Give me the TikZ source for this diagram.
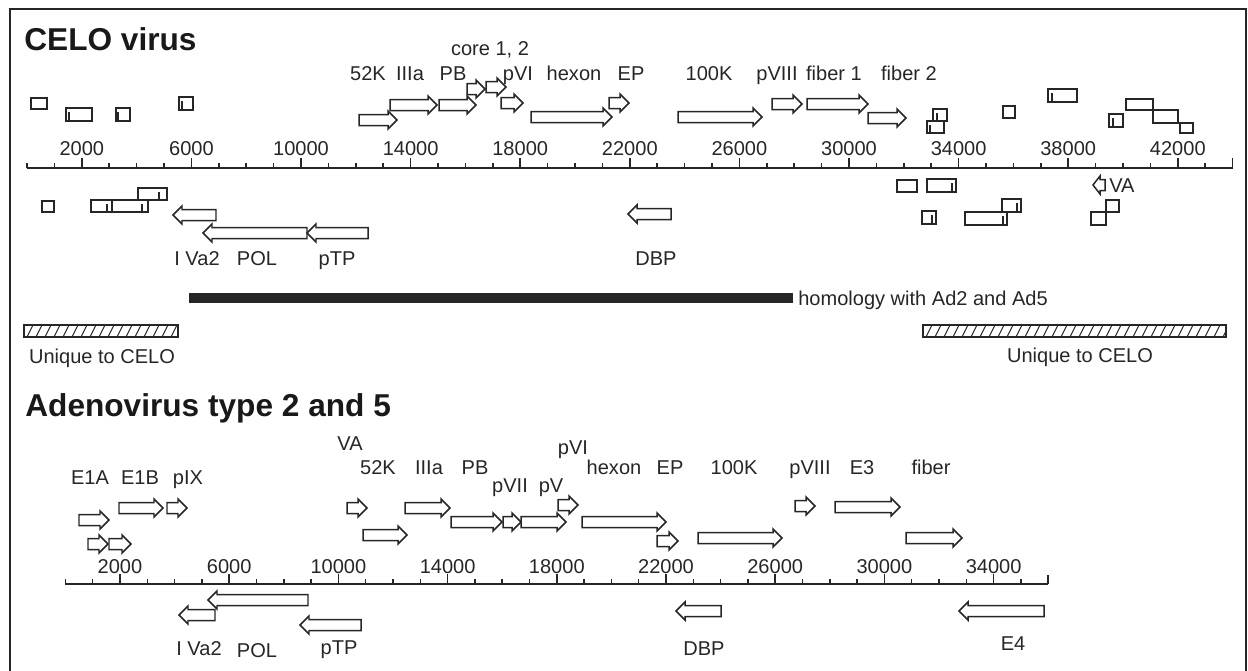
\documentclass[tikz,border=0pt]{standalone}
\usepackage{fontspec}
\setmainfont{Liberation Sans}

% gene arrows: [head length]{x1}{x2}{y}
\newcommand{\fwd}[4][9]{%
  \draw[orf] (#2,#4-5.5) -- (#3-#1,#4-5.5) -- (#3-#1,#4-9) -- (#3,#4) -- (#3-#1,#4+9) -- (#3-#1,#4+5.5) -- (#2,#4+5.5) -- cycle;}
\newcommand{\rev}[4][9]{%
  \draw[orf] (#3,#4-5.5) -- (#2+#1,#4-5.5) -- (#2+#1,#4-9) -- (#2,#4) -- (#2+#1,#4+9) -- (#2+#1,#4+5.5) -- (#3,#4+5.5) -- cycle;}
% open reading frame box: [tick x]{x1}{y1}{x2}{y2}
\newcommand{\orfbox}[5][]{%
  \draw[orf] (#2,#3) rectangle (#4,#5);
  \ifx&#1&\else\draw[orf] (#1,#5) -- (#1,#3+4);\fi}

\begin{document}
\begin{tikzpicture}[x=0.02cm, y=-0.02cm,
    orf/.style={draw=black!85, line width=0.85pt, fill=white},
    maprule/.style={draw=black!85, line width=0.85pt},
    lbl/.style={text=black!85, font=\fontsize{11.4}{13}\selectfont, inner sep=0pt, anchor=base},
    ttl/.style={text=black!90, font=\fontsize{18}{21}\selectfont\bfseries, inner sep=0pt, anchor=base west}]

  \useasboundingbox (0,0) rectangle (1248,670);
  \draw[black!85, line width=1.2pt] (10,700) -- (10,9) -- (1246,9) -- (1246,700);

  % CELO virus
  \node[ttl] (celo) at (24,50) {CELO virus};

  % CELO scale
  \draw[maprule] (27,168) -- (1232.6,168);
  \foreach \k in {0,...,44} \draw[maprule] ({27+27.4*\k},168) -- ++(0,-5);
  \draw[maprule] (1232.6,168) -- ++(0,-10);
  \foreach \k in {2,6,...,42} {
    \draw[maprule] ({27+27.4*\k},168) -- ++(0,-10);
    \node[lbl] (c\k) at ({27+27.4*\k},155) {\k000};
  }

  % CELO rightward genes
  \fwd{359}{397}{120}
  \fwd{390}{437}{105}
  \fwd{439}{476}{105}
  \fwd{467}{485}{89}
  \fwd{486}{506}{87}
  \fwd{501}{523}{103}
  \fwd{531}{612}{117}
  \fwd{609}{629}{103}
  \fwd{678}{762}{117}
  \fwd{772}{802}{104}
  \fwd{807}{868}{104}
  \fwd{868}{906}{118}
  \orfbox{31}{98}{47}{109}
  \orfbox[69]{66}{108}{92}{121}
  \orfbox[118]{116}{108}{130}{121}
  \orfbox[182]{179}{97}{193}{110}
  \orfbox[937]{933}{109}{947}{121}
  \orfbox[930]{927}{121}{944}{133}
  \orfbox{1003}{106}{1015}{118}
  \orfbox[1052]{1048}{89}{1077}{102}
  \orfbox[1113]{1109}{114}{1123}{127}
  \orfbox{1126}{99}{1153}{110}
  \orfbox{1153}{110}{1178}{123}
  \orfbox{1180}{123}{1193}{133}

  \node[lbl] (ccore) at (490,55) {core 1, 2};
  \node[lbl] (c52K) at (368,80) {52K};
  \node[lbl] (cIIIa) at (410,80) {IIIa};
  \node[lbl] (cPB) at (453,80) {PB};
  \node[lbl] (cpVI) at (518,80) {pVI};
  \node[lbl] (chexon) at (574,80) {hexon};
  \node[lbl] (cEP) at (631,80) {EP};
  \node[lbl] (c100K) at (709,80) {100K};
  \node[lbl] (cpVIII) at (777,80) {pVIII};
  \node[lbl] (cfiber1) at (834,80) {fiber 1};
  \node[lbl] (cfiber2) at (909,80) {fiber 2};

  % CELO leftward genes
  \rev{173}{216}{215}
  \rev{203}{307}{233}
  \rev{307}{368}{233}
  \rev{628}{671}{214}
  \rev[7]{1093}{1105}{185}
  \orfbox{42}{201}{54}{212}
  \orfbox[107]{91}{200}{112}{212}
  \orfbox[142]{112}{200}{148}{212}
  \orfbox[159]{138}{188}{167}{200}
  \orfbox{897}{180}{917}{192}
  \orfbox[952]{927}{179}{956}{192}
  \orfbox[932]{922}{211}{936}{224}
  \orfbox[1003]{965}{212}{1007}{225}
  \orfbox[1017]{1002}{199}{1021}{212}
  \orfbox{1091}{212}{1106}{225}
  \orfbox{1106}{200}{1119}{212}

  \node[lbl] (cIVa2) at (197,265) {I Va2};
  \node[lbl] (cPOL) at (257,265) {POL};
  \node[lbl] (cpTP) at (337,265) {pTP};
  \node[lbl] (cDBP) at (656,265) {DBP};
  \node[lbl, anchor=base west] (cVA) at (1109,192) {VA};

  % homology and unique regions
  \fill[black!85] (189,293) rectangle (793,303);
  \node[lbl, anchor=base west] (homol) at (798,305) {homology with Ad2 and Ad5};
  \begin{scope}
    \clip (24,325) rectangle (178,337);
    \foreach \hx in {18,27,...,180} \draw[black!85, line width=0.6pt] (\hx,337) -- (\hx+6,325);
  \end{scope}
  \draw[orf, fill=none] (24,325) rectangle (178,337);
  \begin{scope}
    \clip (923,325) rectangle (1226,337);
    \foreach \hx in {917,926,...,1230} \draw[black!85, line width=0.6pt] (\hx,337) -- (\hx+6,325);
  \end{scope}
  \draw[orf, fill=none] (923,325) rectangle (1226,337);
  \node[lbl] (uniqL) at (102,363) {Unique to CELO};
  \node[lbl] (uniqR) at (1080,362) {Unique to CELO};

  % Adenovirus type 2 and 5
  \node[ttl] (adeno) at (25,416) {Adenovirus type 2 and 5};

  % Ad scale
  \draw[maprule] (65.4,584) -- (1048.2,584);
  \foreach \k in {0,...,36} \draw[maprule] ({65.4+27.3*\k},584) -- ++(0,-5);
  \draw[maprule] (1048.2,584) -- ++(0,-9);
  \foreach \k in {2,6,...,34} {
    \draw[maprule] ({65.4+27.3*\k},584) -- ++(0,-10);
    \node[lbl] (a\k) at ({65.4+27.3*\k},573) {\k000};
  }

  % Ad rightward genes
  \fwd{79}{109}{520}
  \fwd{119}{163}{508}
  \fwd{167}{187}{508}
  \fwd{88}{108}{544}
  \fwd{109}{131}{544}
  \fwd{347}{367}{508}
  \fwd{363}{407}{535}
  \fwd{405}{450}{508}
  \fwd{451}{502}{522}
  \fwd{503}{521}{522}
  \fwd{521}{566}{522}
  \fwd{558}{578}{505}
  \fwd{582}{666}{522}
  \fwd{657}{678}{541}
  \fwd{698}{782}{538}
  \fwd{795}{815}{506}
  \fwd{835}{900}{507}
  \fwd{906}{962}{538}

  \node[lbl] (aVA) at (350,450) {VA};
  \node[lbl] (a52K) at (378,474) {52K};
  \node[lbl] (aE1A) at (90,484) {E1A};
  \node[lbl] (aE1B) at (140,484) {E1B};
  \node[lbl] (apIX) at (188,484) {pIX};
  \node[lbl] (aIIIa) at (429,474) {IIIa};
  \node[lbl] (aPB) at (475,474) {PB};
  \node[lbl] (apVI) at (573,454) {pVI};
  \node[lbl] (apVII) at (510,492) {pVII};
  \node[lbl] (apV) at (551,492) {pV};
  \node[lbl] (ahexon) at (614,474) {hexon};
  \node[lbl] (aEP) at (670,474) {EP};
  \node[lbl] (a100K) at (734,474) {100K};
  \node[lbl] (apVIII) at (810,474) {pVIII};
  \node[lbl] (aE3) at (862,474) {E3};
  \node[lbl] (afiber) at (931,474) {fiber};

  % Ad leftward genes
  \rev{208}{308}{600}
  \rev{179}{215}{615}
  \rev{300}{361}{625}
  \rev{676}{721}{611}
  \rev{959}{1044}{611}

  \node[lbl] (aIVa2) at (199,655) {I Va2};
  \node[lbl] (aPOL) at (257,657) {POL};
  \node[lbl] (apTP) at (339,654) {pTP};
  \node[lbl] (aDBP) at (704,655) {DBP};
  \node[lbl] (aE4) at (1013,650) {E4};

\end{tikzpicture}
\end{document}
